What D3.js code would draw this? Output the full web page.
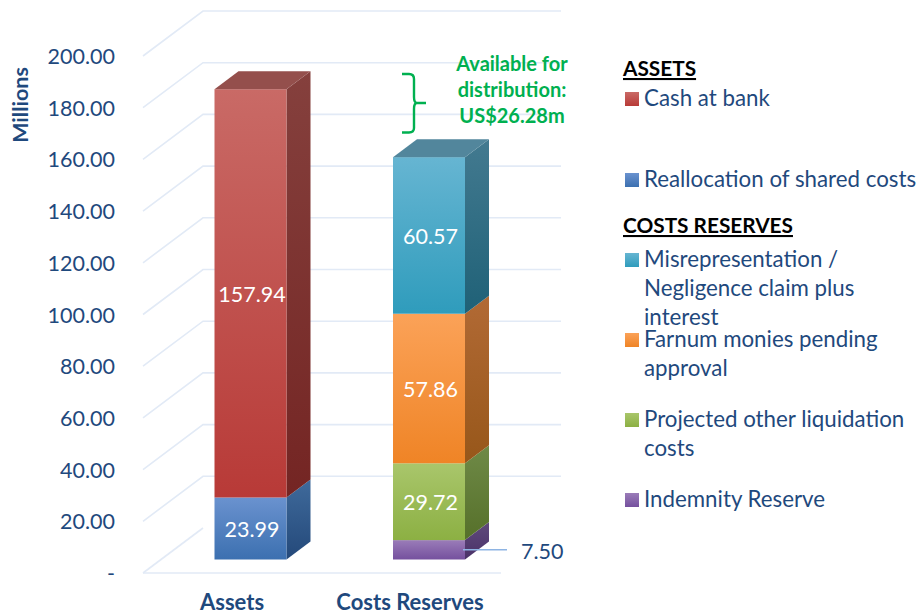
<!DOCTYPE html>
<html><head><meta charset="utf-8">
<script src="https://cdn.jsdelivr.net/npm/d3@7/dist/d3.min.js"></script>
<style>html,body{margin:0;background:#fff}svg{display:block}text{font-family:Lato,"Open Sans",sans-serif}</style>
</head><body><svg id="c" width="919" height="616"></svg>
<script>
const categories = ["Assets", "Costs Reserves"];
const tickValues = [0,20,40,60,80,100,120,140,160,180,200];
const assetSeries = ["Reallocation of shared costs", "Cash at bank"];
const assetValues = [23.99, 157.94];
const reserveSeries = ["Indemnity Reserve", "Projected other liquidation costs", "Farnum monies pending approval", "Misrepresentation / Negligence claim plus interest"];
const reserveValues = [7.50, 29.72, 57.86, 60.57];
const seriesColors = {
  "Cash at bank": ["#c96a66","#b83a37"],
  "Reallocation of shared costs": ["#6a92cf","#3c70b0"],
  "Misrepresentation / Negligence claim plus interest": ["#66b5d2","#2f9cbc"],
  "Farnum monies pending approval": ["#fba258","#ef8426"],
  "Projected other liquidation costs": ["#a9c66b","#8cb043"],
  "Indemnity Reserve": ["#9a7cb8","#75509e"]
};
const sideColors = {
  "Cash at bank": ["#85403d","#742523"],
  "Reallocation of shared costs": ["#3f6a9b","#24497a"],
  "Misrepresentation / Negligence claim plus interest": ["#437a90","#1f6177"],
  "Farnum monies pending approval": ["#b26a35","#97571a"],
  "Projected other liquidation costs": ["#6f8a47","#56702a"],
  "Indemnity Reserve": ["#604a7c","#4a3168"]
};
const topColors = {"Cash at bank":"#944f4c","Misrepresentation / Negligence claim plus interest":"#52869c"};
const legendHeads = [{t:"ASSETS",y:76},{t:"COSTS RESERVES",y:233}];
const legendItems = [
  {s:"Cash at bank",lines:["Cash at bank"],y:105},
  {s:"Reallocation of shared costs",lines:["Reallocation of shared costs"],y:186},
  {s:"Misrepresentation / Negligence claim plus interest",lines:["Misrepresentation /","Negligence claim plus","interest"],y:266},
  {s:"Farnum monies pending approval",lines:["Farnum monies pending","approval"],y:346},
  {s:"Projected other liquidation costs",lines:["Projected other liquidation","costs"],y:426},
  {s:"Indemnity Reserve",lines:["Indemnity Reserve"],y:506}
];
const annotationLines = ["Available for","distribution:","US$26.28m"];

const svg = d3.select("#c");
const navy = "#1f497d", gridCol = "#e2eaf6";
const y = d3.scaleLinear().domain([0,200]).range([559.5,42.5]);
const barW = 72, dx = 24, dy = -18;
const barX = c => c === categories[0] ? 214.5 : 393;

// gradients
const defs = svg.append("defs");
function grad(id, cols){
  const g = defs.append("linearGradient").attr("id",id).attr("x1",0).attr("x2",0).attr("y1",0).attr("y2",1);
  g.append("stop").attr("offset",0).attr("stop-color",cols[0]);
  g.append("stop").attr("offset",1).attr("stop-color",cols[1]);
}
Object.keys(seriesColors).forEach((k,i)=>{ grad("f"+i,seriesColors[k]); grad("s"+i,sideColors[k]); });
const fid = s => "url(#f"+Object.keys(seriesColors).indexOf(s)+")";
const sid = s => "url(#s"+Object.keys(seriesColors).indexOf(s)+")";

// grid
const gridG = svg.append("g").attr("fill","none").attr("stroke",gridCol).attr("stroke-width",1.6);
tickValues.forEach(v=>{
  const by = y(v)-31.5;
  gridG.append("path").attr("d",`M143,${by+45}L203,${by}L${v===0?203:561},${by}`);
});
gridG.append("path").attr("d",`M143,${y(0)+13.5}L501,${y(0)+13.5}`);

// tick labels
svg.append("g").selectAll("text").data(tickValues).join("text")
  .attr("x",115).attr("y",v=>y(v)+14).attr("dy","0.35em").attr("text-anchor","end")
  .attr("font-size",21.5).attr("fill",navy)
  .text(v=>v===0?"-":v.toFixed(2));

// bars
function drawStack(cat, names, vals, labelled){
  const bx = barX(cat);
  let cum = 0;
  const g = svg.append("g");
  names.forEach((n,i)=>{
    const y0 = y(cum), y1 = y(cum+vals[i]);
    g.append("path").attr("d",`M${bx+barW},${y0}L${bx+barW+dx},${y0+dy}L${bx+barW+dx},${y1+dy}L${bx+barW},${y1}Z`).attr("fill",sid(n));
    g.append("rect").attr("x",bx).attr("y",y1).attr("width",barW).attr("height",y0-y1).attr("fill",fid(n));
    if(i===names.length-1){
      g.append("path").attr("d",`M${bx},${y1}L${bx+dx},${y1+dy}L${bx+barW+dx},${y1+dy}L${bx+barW},${y1}Z`).attr("fill",topColors[n]);
    }
    if(labelled[i]) g.append("text").attr("x",bx+barW/2+1.5).attr("y",(y0+y1)/2+1).attr("dy","0.35em")
      .attr("text-anchor","middle").attr("fill","#fff").attr("font-size",21.5).text(vals[i].toFixed(2));
    cum += vals[i];
  });
}
drawStack(categories[0], assetSeries, assetValues, [true,true]);
drawStack(categories[1], reserveSeries, reserveValues, [false,true,true,true]);

// 7.50 callout
const calloutY = y(reserveValues[0]/2);
svg.append("line").attr("x1",463).attr("x2",507).attr("y1",calloutY).attr("y2",calloutY).attr("stroke","#8eb4e3").attr("stroke-width",1.4);
svg.append("text").attr("x",521).attr("y",calloutY+1.5).attr("dy","0.35em").attr("font-size",21.5).attr("fill",navy).text(reserveValues[0].toFixed(2));

// category labels
svg.append("g").selectAll("text").data(categories).join("text")
  .attr("x",c=>c===categories[0]?232:410).attr("y",610).attr("text-anchor","middle")
  .attr("font-size",22).attr("font-weight",700).attr("fill",navy).text(d=>d);

// axis title
svg.append("text").attr("transform","translate(28,105) rotate(-90)").attr("text-anchor","middle")
  .attr("font-size",21.5).attr("font-weight",700).attr("fill",navy).text("Millions");

// bracket
svg.append("path").attr("fill","none").attr("stroke","#00b050").attr("stroke-width",2.4)
  .attr("d","M402,74L409,74Q414,74 414,79L414,97Q414,103 417,103L426,103M417,103Q414,103 414,109L414,128Q414,132.5 409,132.5L402,132.5");
svg.append("g").selectAll("text").data(annotationLines).join("text")
  .attr("x",512).attr("y",(d,i)=>71+i*26).attr("text-anchor","middle")
  .attr("font-size",20).attr("font-weight",700).attr("fill","#00b050").text(d=>d);

// legend
svg.append("g").selectAll("text").data(legendHeads).join("text")
  .attr("x",623).attr("y",d=>d.y).attr("font-size",20.8).attr("font-weight",700)
  .attr("fill","#000").attr("text-decoration","underline").text(d=>d.t);
const li = svg.append("g").selectAll("g").data(legendItems).join("g");
li.append("rect").attr("x",625).attr("y",d=>d.y-13).attr("width",14).attr("height",14).attr("fill",d=>fid(d.s));
li.each(function(d){
  d3.select(this).selectAll("text").data(d.lines).join("text")
    .attr("x",644).attr("y",(l,i)=>d.y+1+i*29).attr("font-size",22.3).attr("fill",navy).text(l=>l);
});
</script></body></html>
